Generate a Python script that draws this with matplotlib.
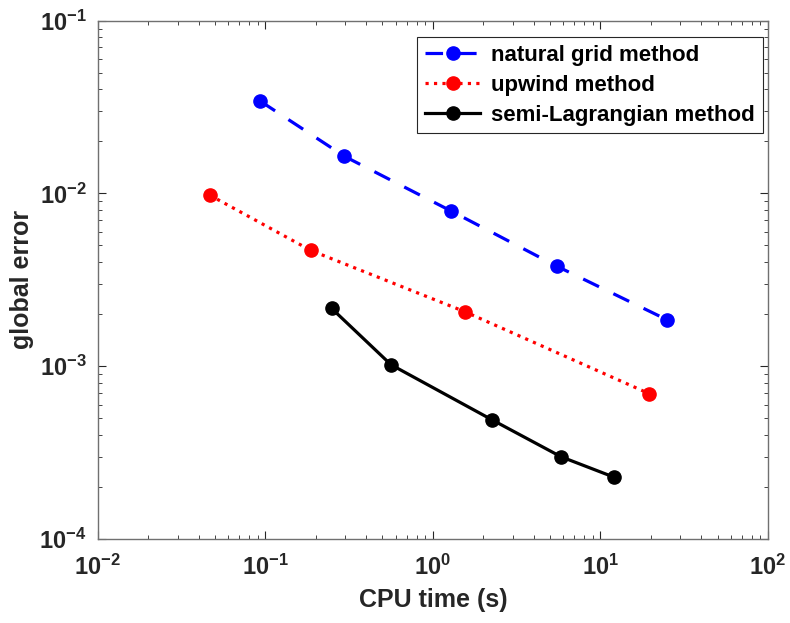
import numpy as np
import matplotlib
matplotlib.use('Agg')
import matplotlib.pyplot as plt
from matplotlib.ticker import LogLocator, FixedLocator, NullFormatter

plt.rcParams['font.family'] = ['Liberation Sans', 'DejaVu Sans']
plt.rcParams['font.weight'] = 'bold'
plt.rcParams['mathtext.fontset'] = 'custom'
plt.rcParams['mathtext.rm'] = 'Liberation Sans:bold'
plt.rcParams['mathtext.it'] = 'Liberation Sans:bold'
plt.rcParams['mathtext.bf'] = 'Liberation Sans:bold'

# CPU time (s) and global error for each method
natural_time = [0.0935, 0.297, 1.28, 5.5, 24.9]
natural_err = [3.42e-2, 1.64e-2, 7.93e-3, 3.79e-3, 1.86e-3]

upwind_time = [0.0466, 0.187, 1.55, 19.6]
upwind_err = [9.78e-3, 4.68e-3, 2.07e-3, 6.93e-4]

semilag_time = [0.249, 0.563, 2.26, 5.83, 12.05]
semilag_err = [2.16e-3, 1.02e-3, 4.89e-4, 2.99e-4, 2.28e-4]

xticks = [1e-2, 1e-1, 1e0, 1e1, 1e2]
xticklabels = [r'$10^{-2}$', r'$10^{-1}$', r'$10^{0}$', r'$10^{1}$', r'$10^{2}$']
yticks = [1e-4, 1e-3, 1e-2, 1e-1]
yticklabels = [r'$10^{-4}$', r'$10^{-3}$', r'$10^{-2}$', r'$10^{-1}$']

fig = plt.figure(figsize=(7.9, 6.23), dpi=100)
ax = fig.add_axes([97.7/790, (623-539)/623, (768-97.7)/790, (539-20.7)/623])

ax.loglog(natural_time, natural_err, '--', color='#0000ff', lw=2.3, marker='o',
          ms=9.5, dashes=(5.5, 5), label='natural grid method')
ax.loglog(upwind_time, upwind_err, ':', color='#ff0000', lw=2.3, marker='o',
          ms=9.5, label='upwind method')
ax.loglog(semilag_time, semilag_err, '-', color='black', lw=2.3, marker='o',
          ms=9.5, label='semi-Lagrangian method')

ax.set_xlim(1e-2, 1e2)
ax.set_ylim(1e-4, 1e-1)
ax.xaxis.set_major_locator(FixedLocator(xticks))
ax.set_xticklabels(xticklabels)
ax.yaxis.set_major_locator(FixedLocator(yticks))
ax.set_yticklabels(yticklabels)
ax.xaxis.set_minor_locator(LogLocator(base=10, subs=np.arange(2, 10)))
ax.yaxis.set_minor_locator(LogLocator(base=10, subs=np.arange(2, 10)))
ax.xaxis.set_minor_formatter(NullFormatter())
ax.yaxis.set_minor_formatter(NullFormatter())

ax.tick_params(which='both', direction='in', top=True, right=True,
               color='#262626', labelsize=17, labelcolor='#262626')
ax.tick_params(which='major', length=6, width=0.8)
ax.tick_params(which='minor', length=3, width=0.6)
ax.tick_params(axis='x', pad=11)
ax.tick_params(axis='y', pad=8)
for s in ax.spines.values():
    s.set_color('#707070')
    s.set_linewidth(1.0)

ax.set_xlabel('CPU time (s)', fontsize=18, fontweight='bold', color='#262626', labelpad=6)
ax.set_ylabel('global error', fontsize=18, fontweight='bold', color='#262626', labelpad=4)

leg = ax.legend(loc='upper right', bbox_to_anchor=(763/790, (623-37)/623),
                bbox_transform=fig.transFigure, borderaxespad=0,
                fontsize=16, fancybox=False, framealpha=1,
                edgecolor='#262626', handlelength=2.5, labelspacing=0.4,
                borderpad=0.35, handletextpad=0.5)
leg.get_frame().set_linewidth(0.8)

fig.savefig('out.png', dpi=100)
